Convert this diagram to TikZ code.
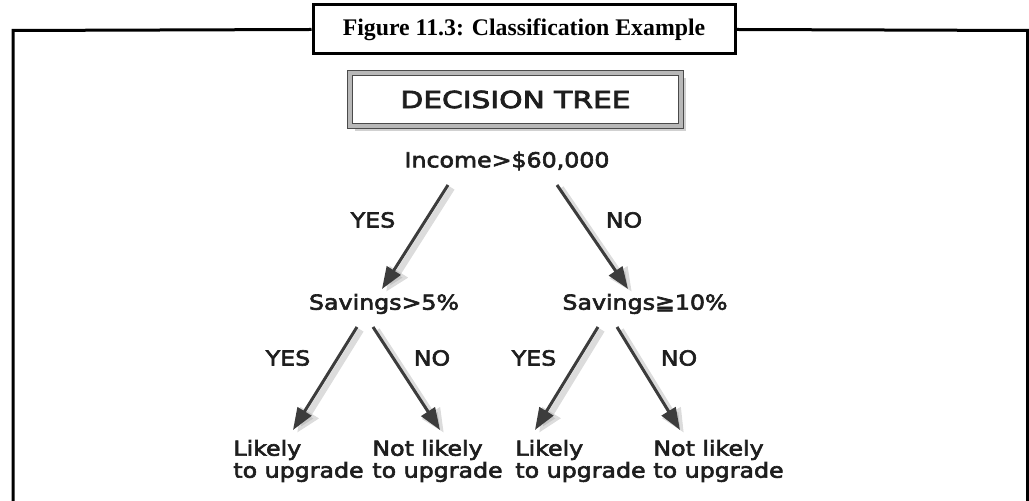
\documentclass[tikz,border=0pt]{standalone}
\usepackage{fontspec}
\usepackage{tikz}
\usepackage{xcolor}
\usetikzlibrary{arrows.meta, positioning, calc, shadows}
\newfontfamily\treefont[FakeStretch=1.15, FakeBold=3]{DejaVu Sans}
\newfontfamily\headfont[FakeStretch=1.27, FakeBold=3.5]{DejaVu Sans}
\newfontfamily\capfont{Liberation Serif}
\definecolor{Tree_Arrow}{HTML}{3C3C3C}
\definecolor{Tree_Text}{HTML}{1E1E1E}
\definecolor{Tree_Shadow}{HTML}{9A9A9A}
\definecolor{Tree_Frame}{HTML}{4A4A4A}
\definecolor{Tree_Bevel}{HTML}{B8B8B8}

\begin{document}
\begin{tikzpicture}[x=0.5pt, y=-0.5pt,
    treetext/.style={font=\treefont\fontsize{10.3}{11}\selectfont, text=Tree_Text, inner sep=0pt},
    leaf/.style={treetext, align=left, anchor=west},
    branch/.style={draw=Tree_Arrow, line width=1.5pt, -{Triangle[length=11pt, width=8pt]}},
    branchshade/.style={draw=Tree_Shadow, line width=3pt, opacity=0.35, -{Triangle[length=12pt, width=10pt]},
        transform canvas={shift={(2pt,-1.5pt)}}}]
    \useasboundingbox (0,0) rectangle (1029,501);
    % Caption and outer frame
    \node[draw, line width=1.5pt, minimum width=211pt, minimum height=24.5pt, font=\capfont\bfseries\fontsize{11.9}{14}\selectfont] (caption) at (524,29.5) {Figure 11.3: Classification Example};
    \draw[line width=1.5pt] (caption.west) -- (13,30.5) -- (13,510);
    \draw[line width=1.5pt] (caption.east) -- (1027.5,30.5) -- (1027.5,510);
    % Title box
    \node[draw=Tree_Frame, line width=0.5pt, double=Tree_Bevel, double distance=2pt, fill=white,
        minimum width=165.5pt, minimum height=26.5pt,
        drop shadow={shadow xshift=2.5pt, shadow yshift=-2.5pt, fill=gray!60, opacity=0.6},
        text=Tree_Text, font=\headfont\fontsize{11.7}{13}\selectfont] (title) at (515.5,99.5) {DECISION TREE};
    % Tests
    \node[treetext] (income) at (507,161) {Income>\$60,000};
    \node[treetext] (sav5) at (384,304) {Savings>5\%};
    \node[treetext] (sav10) at (645,304) {Savings≧10\%};
    % Leaves
    \node[leaf] (leaf1) at (233,461) {Likely\\to upgrade};
    \node[leaf] (leaf2) at (372,461) {Not likely\\to upgrade};
    \node[leaf] (leaf3) at (515,461) {Likely\\to upgrade};
    \node[leaf] (leaf4) at (653,461) {Not likely\\to upgrade};
    % Answers
    \node[treetext] (yes1) at (373,220) {YES};
    \node[treetext] (no1) at (624,220) {NO};
    \node[treetext] (yes2) at (288,358) {YES};
    \node[treetext] (no2) at (432,358) {NO};
    \node[treetext] (yes3) at (534,358) {YES};
    \node[treetext] (no3) at (679,358) {NO};
    % Branches
    \draw[branchshade] ($(income)+(-59,24)$) -- ($(sav5)+(-2,-15)$);
    \draw[branch] ($(income)+(-59,24)$) -- ($(sav5)+(-2,-15)$);
    \draw[branchshade] ($(income)+(50,24)$) -- ($(sav10)+(-17,-15)$);
    \draw[branch] ($(income)+(50,24)$) -- ($(sav10)+(-17,-15)$);
    \draw[branchshade] ($(sav5)+(-27,23)$) -- ($(leaf1.west)+(60,-31)$);
    \draw[branch] ($(sav5)+(-27,23)$) -- ($(leaf1.west)+(60,-31)$);
    \draw[branchshade] ($(sav5)+(-11,23)$) -- ($(leaf2.west)+(68,-31)$);
    \draw[branch] ($(sav5)+(-11,23)$) -- ($(leaf2.west)+(68,-31)$);
    \draw[branchshade] ($(sav10)+(-47,23)$) -- ($(leaf3.west)+(20,-31)$);
    \draw[branch] ($(sav10)+(-47,23)$) -- ($(leaf3.west)+(20,-31)$);
    \draw[branchshade] ($(sav10)+(-28,23)$) -- ($(leaf4.west)+(27,-31)$);
    \draw[branch] ($(sav10)+(-28,23)$) -- ($(leaf4.west)+(27,-31)$);
\end{tikzpicture}
\end{document}
